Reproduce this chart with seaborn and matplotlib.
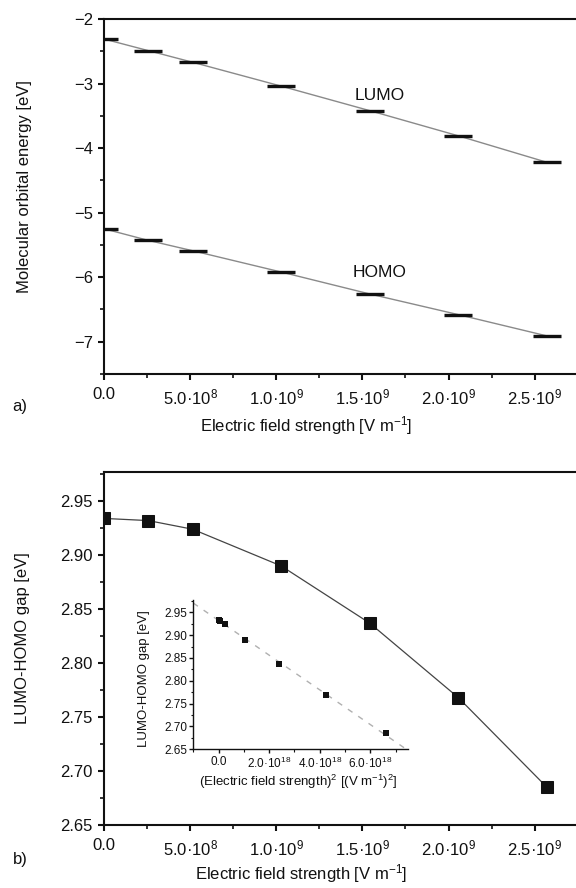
import numpy as np
import pandas as pd
import matplotlib
matplotlib.use("Agg")
import matplotlib.pyplot as plt
import seaborn as sns
from matplotlib.ticker import MultipleLocator, FormatStrFormatter

# ---------------- data ----------------
field = [0.0, 2.571e8, 5.142e8, 1.0284e9, 1.5426e9, 2.0568e9, 2.571e9]
lumo = [-2.31, -2.49, -2.67, -3.04, -3.42, -3.81, -4.22]
homo = [-5.25, -5.43, -5.59, -5.92, -6.26, -6.58, -6.91]
gap = [2.934, 2.932, 2.924, 2.890, 2.837, 2.768, 2.685]
# squared field in units of 1e18 (V/m)^2
field_sq_e18 = [0.0, 0.066, 0.264, 1.058, 2.38, 4.23, 6.61]

x_ticks = [0.0, 5e8, 1e9, 1.5e9, 2e9, 2.5e9]
x_ticklabels = ["0.0", "5.0·10$^{8}$", "1.0·10$^{9}$", "1.5·10$^{9}$",
                "2.0·10$^{9}$", "2.5·10$^{9}$"]
in_x_ticks = [0.0, 2.0, 4.0, 6.0]
in_x_ticklabels = ["0.0", "2.0·10$^{18}$", "4.0·10$^{18}$", "6.0·10$^{18}$"]

sns.set_theme(style="ticks")
plt.rcParams["font.family"] = ["Liberation Sans", "DejaVu Sans"]
plt.rcParams["mathtext.fontset"] = "custom"
plt.rcParams["mathtext.rm"] = "Liberation Sans"
plt.rcParams["mathtext.it"] = "Liberation Sans:italic"
plt.rcParams["mathtext.bf"] = "Liberation Sans:bold"
plt.rcParams["mathtext.default"] = "regular"
plt.rcParams["axes.unicode_minus"] = True

INK = "#111111"

fig = plt.figure(figsize=(5.76, 8.88), dpi=100)
W, H = 576, 888

def fig_axes(l, t, r, b):
    return fig.add_axes([l / W, 1 - b / H, (r - l) / W, (b - t) / H])

def style_axes(ax, fs, lw, major_len, minor_len, show_top=True):
    for s in ["left", "bottom", "top"]:
        ax.spines[s].set_linewidth(lw)
        ax.spines[s].set_color(INK)
    ax.spines["right"].set_visible(False)
    ax.spines["top"].set_visible(show_top)
    ax.tick_params(which="major", direction="out", length=major_len, width=lw,
                   color=INK, labelsize=fs, labelcolor=INK, pad=3.5,
                   top=False, right=False)
    ax.tick_params(which="minor", direction="out", length=minor_len, width=lw * 0.8,
                   color=INK, top=False, right=False)
    ax.set_facecolor("white")

# ---------------- panel a ----------------
ax1 = fig_axes(104, 19, 576, 374)
df_a = pd.DataFrame({"field": field, "LUMO": lumo, "HOMO": homo})
for col in ["LUMO", "HOMO"]:
    sns.lineplot(data=df_a, x="field", y=col, ax=ax1, color="#8a8a8a", lw=1.0,
                 marker="_", markersize=20, markeredgewidth=2.4,
                 markeredgecolor=INK, markerfacecolor=INK)
ax1.set_xlim(0, 2.74e9)
ax1.set_ylim(-7.5, -2)
ax1.set_xticks(x_ticks)
ax1.set_xticklabels(x_ticklabels)
ax1.xaxis.set_minor_locator(MultipleLocator(2.5e8))
ax1.yaxis.set_major_locator(MultipleLocator(1))
ax1.yaxis.set_minor_locator(MultipleLocator(0.5))
style_axes(ax1, 12, 1.5, 4.5, 2.8)
ax1.tick_params(axis="x", which="major", pad=5)
ax1.set_xlabel("Electric field strength [V m$^{-1}$]", fontsize=12, color=INK)
ax1.set_ylabel("Molecular orbital energy [eV]", fontsize=12, color=INK)
ax1.xaxis.set_label_coords(0.428, -0.112)
ax1.yaxis.set_label_coords(-0.153, 0.527)
ax1.text(1.6e9, -3.18, "LUMO", fontsize=12.5, ha="center", va="center", color=INK)
ax1.text(1.6e9, -5.93, "HOMO", fontsize=12.5, ha="center", va="center", color=INK)
fig.text(20 / W, 1 - 406 / H, "a)", fontsize=12, ha="center", va="center", color=INK)

# ---------------- panel b ----------------
ax2 = fig_axes(104, 472, 576, 825)
df_b = pd.DataFrame({"field": field, "gap": gap, "field_sq": field_sq_e18})
sns.lineplot(data=df_b, x="field", y="gap", ax=ax2, color="#444444", lw=0.9,
             marker="s", markersize=8.6, markeredgecolor=INK, markerfacecolor=INK)
ax2.set_xlim(0, 2.74e9)
ax2.set_ylim(2.65, 2.977)
ax2.set_xticks(x_ticks)
ax2.set_xticklabels(x_ticklabels)
ax2.xaxis.set_minor_locator(MultipleLocator(2.5e8))
ax2.yaxis.set_major_locator(MultipleLocator(0.05))
ax2.yaxis.set_minor_locator(MultipleLocator(0.025))
ax2.yaxis.set_major_formatter(FormatStrFormatter("%.2f"))
style_axes(ax2, 12, 1.5, 4.5, 2.8)
ax2.tick_params(axis="x", which="major", pad=5)
ax2.set_xlabel("Electric field strength [V m$^{-1}$]", fontsize=12, color=INK)
ax2.set_ylabel("LUMO-HOMO gap [eV]", fontsize=12, color=INK)
ax2.xaxis.set_label_coords(0.417, -0.104)
ax2.yaxis.set_label_coords(-0.157, 0.53)
fig.text(20 / W, 1 - 859 / H, "b)", fontsize=12, ha="center", va="center", color=INK)

# ---------------- inset ----------------
axin = fig_axes(193.3, 600, 408.3, 749.3)
axin.set_xlim(-1.0, 7.5)
axin.set_ylim(2.65, 2.977)
sns.regplot(data=df_b, x="field_sq", y="gap", ax=axin, ci=None, truncate=False,
            marker="s",
            scatter_kws=dict(s=20, color=INK, edgecolors=INK, linewidths=0,
                             alpha=1, zorder=3),
            line_kws=dict(color="#b0b0b0", lw=1.0, ls=(0, (4, 5)), zorder=2))
axin.set_xlim(-1.0, 7.5)
axin.set_ylim(2.65, 2.977)
axin.set_xticks(in_x_ticks)
axin.set_xticklabels(in_x_ticklabels)
axin.xaxis.set_minor_locator(MultipleLocator(1.0))
axin.yaxis.set_major_locator(MultipleLocator(0.05))
axin.yaxis.set_minor_locator(MultipleLocator(0.025))
axin.yaxis.set_major_formatter(FormatStrFormatter("%.2f"))
style_axes(axin, 8.5, 1.0, 3, 1.8, show_top=False)
axin.tick_params(which="major", pad=1.5)
axin.set_xlabel("(Electric field strength)$^{2}$ [(V m$^{-1}$)$^{2}$]",
                fontsize=9.5, color=INK)
axin.set_ylabel("LUMO-HOMO gap [eV]", fontsize=9.5, color=INK)
axin.xaxis.set_label_coords(0.49, -0.155)
axin.yaxis.set_label_coords(-0.2, 0.474)
axin.patch.set_alpha(0)

fig.savefig("out.png", dpi=100, facecolor="white")
